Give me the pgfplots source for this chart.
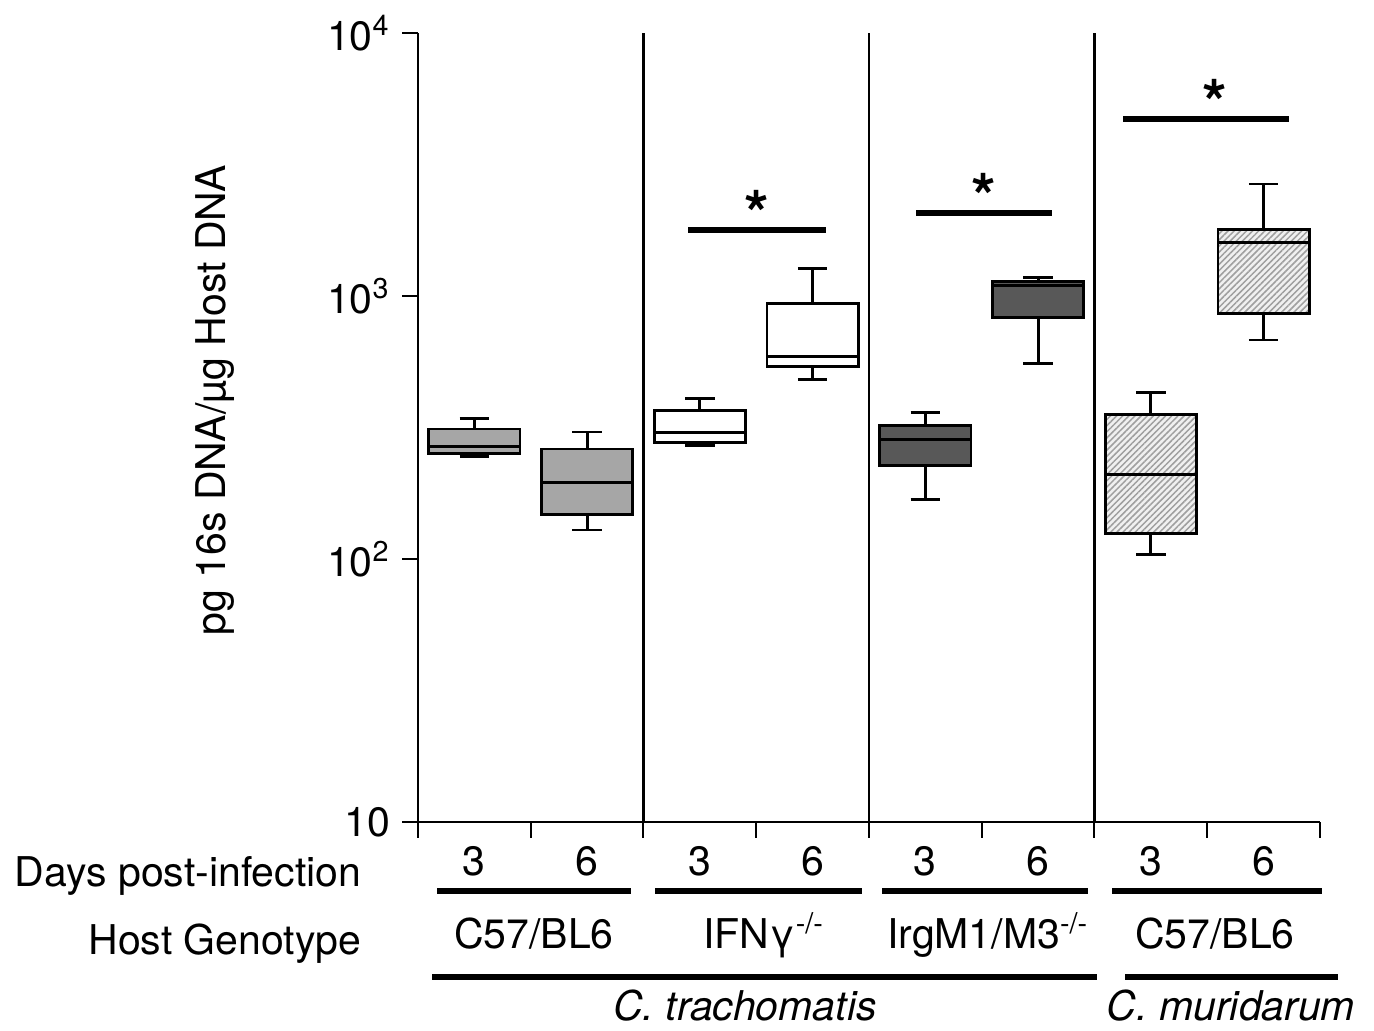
\documentclass[border=0pt]{standalone}
\usepackage{pgfplots}
\pgfplotsset{compat=1.18}
\usetikzlibrary{patterns.meta}
\usepackage{fontspec}
\setmainfont{TeX Gyre Heros}
\definecolor{boxgray}{HTML}{A6A6A6}
\definecolor{boxdark}{HTML}{585858}
\newcommand{\lab}{\fontsize{12.3}{14}\selectfont}
\tikzset{
    boxline/.style={draw=black, line width=0.85pt},
    hatch/.style={fill=gray!12, postaction={pattern={Lines[angle=45,distance=1.3pt,line width=0.45pt]}, pattern color=gray!75}},
    star/.style={anchor=base, yshift=-2pt, font=\bfseries\fontsize{19}{19}\selectfont},
}

\begin{document}
\begin{tikzpicture}[font=\lab]
% page size, in pixels of the reference (0.3pt each)
\begin{scope}[x=0.3pt,y=-0.3pt,shift={(-418,-822)}]
\useasboundingbox (0,0) rectangle (1374,1030);
\end{scope}
\begin{axis}[
    scale only axis, width=270.6pt, height=236.7pt,
    xmin=0.5, xmax=8.5,
    ymode=log, ymin=10, ymax=10000,
    axis lines*=left,
    axis line style={line width=0.6pt},
    xtick={0.5,1.5,...,8.5}, xticklabels={},
    ytick={10,100,1000,10000},
    yticklabels={10,10\textsuperscript{2},10\textsuperscript{3},10\textsuperscript{4}},
    tick align=outside, major tick length=4.8pt,
    tick style={line width=0.6pt, black},
    minor y tick style={draw=none},
    tick label style={font=\lab},
    /pgf/number format/assume math mode=true,
    unbounded coords=jump,
    clip=false,
]
% boxes: quartile box, then median + whiskers + caps
% C. trachomatis, C57/BL6, day 3 and 6
\addplot[boxline, fill=boxgray] coordinates {(0.595,251) (1.405,251) (1.405,312) (0.595,312)} -- cycle;
\addplot[boxline] coordinates {(0.595,267) (1.405,267) (1,nan) (1,312) (1,343) (1,nan) (0.87,343) (1.13,343) (1,nan) (1,251) (1,246) (1,nan) (0.87,246) (1.13,246)};
\addplot[boxline, fill=boxgray] coordinates {(1.595,148) (2.405,148) (2.405,262) (1.595,262)} -- cycle;
\addplot[boxline] coordinates {(1.595,196) (2.405,196) (2,nan) (2,262) (2,304) (2,nan) (1.87,304) (2.13,304) (2,nan) (2,148) (2,129) (2,nan) (1.87,129) (2.13,129)};
% IFNg -/-
\addplot[boxline, fill=white] coordinates {(2.595,277) (3.405,277) (3.405,366) (2.595,366)} -- cycle;
\addplot[boxline] coordinates {(2.595,302) (3.405,302) (3,nan) (3,366) (3,407) (3,nan) (2.87,407) (3.13,407) (3,nan) (3,277) (3,271) (3,nan) (2.87,271) (3.13,271)};
\addplot[boxline, fill=white] coordinates {(3.595,539) (4.405,539) (4.405,938) (3.595,938)} -- cycle;
\addplot[boxline] coordinates {(3.595,591) (4.405,591) (4,nan) (4,938) (4,1270) (4,nan) (3.87,1270) (4.13,1270) (4,nan) (4,539) (4,483) (4,nan) (3.87,483) (4.13,483)};
% IrgM1/M3 -/-
\addplot[boxline, fill=boxdark] coordinates {(4.595,226) (5.405,226) (5.405,321) (4.595,321)} -- cycle;
\addplot[boxline] coordinates {(4.595,285) (5.405,285) (5,nan) (5,321) (5,360) (5,nan) (4.87,360) (5.13,360) (5,nan) (5,226) (5,168) (5,nan) (4.87,168) (5.13,168)};
\addplot[boxline, fill=boxdark] coordinates {(5.595,827) (6.405,827) (6.405,1133) (5.595,1133)} -- cycle;
\addplot[boxline] coordinates {(5.595,1094) (6.405,1094) (6,nan) (6,1133) (6,1178) (6,nan) (5.87,1178) (6.13,1178) (6,nan) (6,827) (6,555) (6,nan) (5.87,555) (6.13,555)};
% C. muridarum, C57/BL6
\addplot[boxline, hatch] coordinates {(6.595,125) (7.405,125) (7.405,354) (6.595,354)} -- cycle;
\addplot[boxline] coordinates {(6.595,210) (7.405,210) (7,nan) (7,354) (7,431) (7,nan) (6.87,431) (7.13,431) (7,nan) (7,125) (7,104) (7,nan) (6.87,104) (7.13,104)};
\addplot[boxline, hatch] coordinates {(7.595,859) (8.405,859) (8.405,1793) (7.595,1793)} -- cycle;
\addplot[boxline] coordinates {(7.595,1595) (8.405,1595) (8,nan) (8,1793) (8,2667) (8,nan) (7.87,2667) (8.13,2667) (8,nan) (8,859) (8,680) (8,nan) (7.87,680) (8.13,680)};

% group separators
\draw[line width=0.75pt] (axis cs:2.5,10) -- (axis cs:2.5,10000);
\draw[line width=0.75pt] (axis cs:4.5,10) -- (axis cs:4.5,10000);
\draw[line width=0.75pt] (axis cs:6.5,10) -- (axis cs:6.5,10000);

% significance
\draw[line width=1.8pt] (axis cs:2.895,1782) -- (axis cs:4.119,1782);
\draw[line width=1.8pt] (axis cs:4.917,2063) -- (axis cs:6.123,2063);
\draw[line width=1.8pt] (axis cs:6.753,4724) -- (axis cs:8.225,4724);
\node[star] at (axis cs:3.507,1782) {*};
\node[star] at (axis cs:5.52,2063) {*};
\node[star] at (axis cs:7.57,4724) {*};
\end{axis}

\begin{scope}[x=0.3pt,y=-0.3pt,shift={(-418,-822)}]
\node[rotate=90] at (215,400) {pg 16s DNA/µg Host DNA};
\foreach \i/\d in {1/3,2/6,3/3,4/6,5/3,6/6,7/3,8/6}
    \node[anchor=base, inner sep=0pt] at ({418+112.75*(\i-0.5)},875) {\d};
\node[anchor=base east, inner sep=0pt] at (362,886) {Days post-infection};
\node[anchor=base east, inner sep=0pt] at (362,954) {Host Genotype};
\draw[line width=1.7pt] (437,891) -- (631,891);
\draw[line width=1.7pt] (655,891) -- (862,891);
\draw[line width=1.7pt] (882,891) -- (1088,891);
\draw[line width=1.7pt] (1112,891) -- (1322,891);
\node[anchor=base, inner sep=0pt] at (534,948) {C57/BL6};
\node[anchor=base, inner sep=0pt] at (764,948) {IFNγ\textsuperscript{-/-}};
\node[anchor=base, inner sep=0pt] at (988,948) {IrgM1/M3\textsuperscript{-/-}};
\node[anchor=base, inner sep=0pt] at (1215,948) {C57/BL6};
\draw[line width=1.7pt] (432,977) -- (1097,977);
\draw[line width=1.7pt] (1125,977) -- (1338,977);
\node[anchor=base, inner sep=0pt] at (745,1020) {\itshape C. trachomatis};
\node[anchor=base, inner sep=0pt] at (1231,1020) {\itshape C. muridarum};
\end{scope}
\end{tikzpicture}
\end{document}
